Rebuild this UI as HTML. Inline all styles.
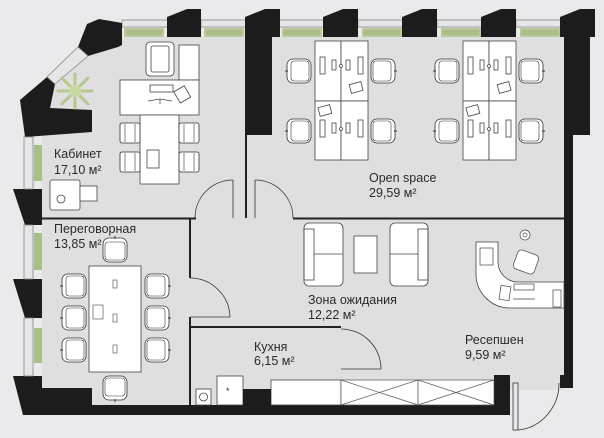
<!DOCTYPE html>
<html><head><meta charset="utf-8"><style>
html,body{margin:0;padding:0;background:#eaeaed;}
svg{display:block}
text{font-family:"Liberation Sans",sans-serif;font-size:12.5px;fill:#2a2a2a}
</style></head><body>
<svg width="604" height="438" viewBox="0 0 604 438" xmlns="http://www.w3.org/2000/svg">
<defs>
<g id="chairL"><rect x="0" y="0" width="24" height="24" rx="6" fill="#fff" stroke="#333" stroke-width="0.8"/><rect x="4" y="2" width="18" height="20" rx="3" fill="none" stroke="#333" stroke-width="0.6"/><line x1="-2" y1="12" x2="1" y2="12" stroke="#333"/></g>
<g id="chairR"><rect x="0" y="0" width="24" height="24" rx="6" fill="#fff" stroke="#333" stroke-width="0.8"/><rect x="2" y="2" width="18" height="20" rx="3" fill="none" stroke="#333" stroke-width="0.6"/><line x1="23" y1="12" x2="26" y2="12" stroke="#333"/></g>
<g id="chairS"><rect x="0" y="0" width="20" height="20" rx="2" fill="#fff" stroke="#333" stroke-width="0.8"/><line x1="5" y1="1" x2="5" y2="19" stroke="#333" stroke-width="0.6"/><line x1="15" y1="1" x2="15" y2="19" stroke="#333" stroke-width="0.6"/></g>
<g id="cluster" fill="#fff" stroke="#444" stroke-width="0.8">
<rect x="0" y="0" width="26" height="60"/><rect x="26" y="0" width="27" height="60"/><rect x="0" y="60" width="26" height="59"/><rect x="26" y="60" width="27" height="59"/>
<rect x="5" y="16" width="5" height="17"/><rect x="43" y="16" width="5" height="17"/><rect x="5" y="79" width="5" height="17"/><rect x="43" y="79" width="5" height="17"/>
<rect x="17" y="19" width="4" height="10"/><rect x="31" y="19" width="4" height="10"/><rect x="17" y="82" width="4" height="10"/><rect x="31" y="82" width="4" height="10"/>
<circle cx="26" cy="25" r="1.5"/><circle cx="26" cy="88" r="1.5"/>
<rect x="35" y="42" width="12" height="9" transform="rotate(-15 41 46)"/><rect x="4" y="65" width="12" height="9" transform="rotate(-15 10 70)"/>
</g>
<g id="plantH"><rect x="0" y="0" width="40" height="9" fill="#b9c99a"/><rect x="2" y="2" width="36" height="5" fill="#9fb87a" opacity="0.6"/></g>
</defs>

<!-- interior floor -->
<polygon points="55,84 88,56 122,45 122,37 564,37 564,390 510,390 510,405 42,405 42,137 50,108" fill="#dfdfdf"/>

<!-- top windows & plants -->
<g fill="#e6e6e8" stroke="#888" stroke-width="0.8">
<rect x="122" y="20" width="46" height="7"/><rect x="201" y="20" width="45" height="7"/>
<rect x="279" y="20" width="45" height="7"/><rect x="358" y="20" width="45" height="7"/>
<rect x="437" y="20" width="45" height="7"/><rect x="516" y="20" width="45" height="7"/>
</g>
<use href="#plantH" x="124" y="28"/><use href="#plantH" x="204" y="28"/><use href="#plantH" x="282" y="28"/>
<use href="#plantH" x="362" y="28"/><use href="#plantH" x="441" y="28"/><use href="#plantH" x="520" y="28"/>

<!-- walls -->
<g fill="#1c1c1c">
<polygon points="78,47 87,24 99,19 122,23 122,45 118,47 88,56"/>
<polygon points="47,77 55,84 50,108 92,110 92,132 25,137 20,100"/>
<polygon points="167,17 187,9 201,9 201,37 167,37"/>
<polygon points="245,17 265,9 280,9 280,37 272,37 272,135 245,135"/>
<polygon points="323,17 343,9 358,9 358,37 323,37"/>
<polygon points="402,17 422,9 437,9 437,37 402,37"/>
<polygon points="481,17 501,9 516,9 516,37 481,37"/>
<polygon points="560,17 580,9 595,9 595,37 590,37 590,135 573,135 573,388 560,388 560,375 564,375 564,37 560,37"/>
<polygon points="13,189 42,189 42,225 25,225"/>
<polygon points="13,279 42,279 42,318 25,318"/>
<polygon points="13,376 42,376 42,388 92,388 92,405 494,405 494,375 510,375 510,415 23,415"/>
</g>
<!-- diagonal window -->
<polygon points="78,47 88,56 55,84 47,77" fill="#e6e6e8" stroke="#888" stroke-width="0.8"/>
<!-- left windows -->
<g fill="#e6e6e8" stroke="#888" stroke-width="0.8">
<rect x="24" y="137" width="9" height="52"/><rect x="24" y="225" width="9" height="54"/><rect x="24" y="318" width="9" height="58"/>
</g>
<g fill="#a8bf86"><rect x="34" y="145" width="8" height="36"/><rect x="34" y="233" width="8" height="37"/><rect x="34" y="328" width="8" height="35"/></g>
<!-- plant -->
<g stroke="#b5c98f" stroke-width="3" stroke-linecap="round"><line x1="62" y1="78" x2="88" y2="104"/><line x1="88" y1="78" x2="62" y2="104"/><line x1="75" y1="74" x2="75" y2="108"/><line x1="58" y1="91" x2="92" y2="91"/></g>
<circle cx="75" cy="91" r="6" fill="#c8d9a3"/>

<!-- interior walls -->
<g stroke="#222" stroke-width="2" fill="none">
<line x1="246" y1="135" x2="246" y2="218"/>
<line x1="42" y1="218.5" x2="196" y2="218.5"/>
<line x1="293" y1="218.5" x2="564" y2="218.5"/>
<line x1="190" y1="218" x2="190" y2="278"/>
<line x1="190" y1="317" x2="190" y2="405"/>
<line x1="190" y1="327" x2="341" y2="327"/>
</g>
<!-- doors -->
<g stroke="#333" stroke-width="0.8" fill="none">
<line x1="233" y1="180" x2="233" y2="218"/><path d="M233,180 A38,38 0 0 0 195,218"/>
<line x1="255" y1="180" x2="255" y2="218"/><path d="M255,180 A38,38 0 0 1 293,218"/>
<line x1="190" y1="317" x2="230" y2="317"/><path d="M190,278 A40,40 0 0 1 230,317"/>
<line x1="341" y1="369" x2="381" y2="369"/><path d="M341,329 A40,40 0 0 1 381,369"/>
<rect x="513" y="383" width="5" height="47" fill="#e6e6e8"/><path d="M518,430 A45,47 0 0 0 559,383"/>
</g>

<!-- kitchen -->
<g stroke="#444" stroke-width="0.8" fill="#fff">
<rect x="271" y="380" width="70" height="25"/>
<rect x="217" y="376" width="26" height="29"/>
<rect x="196" y="389" width="15" height="16"/><circle cx="203.5" cy="397" r="4" fill="none"/>
</g>
<rect x="243" y="389" width="28" height="16" fill="#1c1c1c"/>
<text x="226" y="394" style="font-size:9px">*</text>
<!-- wardrobe -->
<g stroke="#555" stroke-width="0.7" fill="#fff">
<rect x="341" y="380" width="77" height="25"/><rect x="418" y="380" width="76" height="25"/>
<path d="M341,380 L418,405 M341,405 L418,380 M418,380 L494,405 M418,405 L494,380" fill="none"/>
</g>

<!-- cabinet furniture -->
<g stroke="#444" stroke-width="0.8" fill="#fff">
<rect x="179" y="45" width="20" height="35"/>
<rect x="146" y="42" width="28" height="34" rx="4"/><rect x="151" y="46" width="18" height="26" rx="2" fill="none"/>
<rect x="120" y="80" width="79" height="35"/>
<rect x="140" y="115" width="39" height="69"/>
<rect x="150" y="85" width="23" height="7" fill="none"/>
<rect x="176" y="88" width="12" height="13" transform="rotate(-30 182 94)" fill="none"/>
<path d="M148,101 L160,99 L172,101 M160,99 L160,104" fill="none"/>
<rect x="147" y="150" width="12" height="18" fill="none"/>
<rect x="50" y="180" width="30" height="30" rx="2"/><rect x="80" y="186" width="17" height="15"/><circle cx="61" cy="199" r="4" fill="none"/>
</g>
<use href="#chairS" x="120" y="123"/><use href="#chairS" x="120" y="152"/>
<use href="#chairS" x="179" y="123"/><use href="#chairS" x="179" y="152"/>

<!-- open space -->
<use href="#cluster" x="315" y="41"/><use href="#cluster" x="463" y="41"/>
<use href="#chairL" x="287" y="59"/><use href="#chairL" x="287" y="119"/>
<use href="#chairR" x="371" y="59"/><use href="#chairR" x="371" y="119"/>
<use href="#chairL" x="435" y="59"/><use href="#chairL" x="435" y="119"/>
<use href="#chairR" x="519" y="59"/><use href="#chairR" x="519" y="119"/>

<!-- meeting room -->
<rect x="89" y="266" width="52" height="106" fill="#fff" stroke="#444" stroke-width="0.8"/>
<g fill="#fff" stroke="#444" stroke-width="0.6"><rect x="113" y="280" width="4" height="8"/><rect x="113" y="314" width="4" height="8"/><rect x="113" y="345" width="4" height="8"/><rect x="93" y="305" width="10" height="14"/></g>
<use href="#chairL" x="62" y="274"/><use href="#chairL" x="62" y="306"/><use href="#chairL" x="62" y="338"/>
<use href="#chairR" x="145" y="274"/><use href="#chairR" x="145" y="306"/><use href="#chairR" x="145" y="338"/>
<use href="#chairL" x="103" y="238" transform="rotate(90 115 250)"/>
<use href="#chairL" x="103" y="376" transform="rotate(-90 115 388)"/>

<!-- waiting -->
<g stroke="#444" stroke-width="0.8" fill="#fff">
<rect x="304" y="223" width="39" height="63" rx="5"/><rect x="304" y="229" width="10" height="51" fill="none"/><line x1="314" y1="254" x2="343" y2="254"/>
<rect x="390" y="223" width="38" height="63" rx="5"/><rect x="418" y="229" width="10" height="51" fill="none"/><line x1="390" y1="254" x2="418" y2="254"/>
<rect x="354" y="236" width="23" height="37"/>
</g>

<!-- reception -->
<path d="M476,242 L498,242 L498,262 A20,20 0 0 0 518,282 L564,282 L564,308 L510,308 A34,34 0 0 1 476,274 Z" fill="#fff" stroke="#444" stroke-width="0.8"/>
<g stroke="#444" stroke-width="0.7" fill="#fff">
<rect x="480" y="248" width="13" height="17"/>
<rect x="515" y="252" width="22" height="20" rx="4" transform="rotate(20 526 262)"/>
<circle cx="525" cy="235" r="5"/><circle cx="525" cy="235" r="2"/>
<rect x="500" y="286" width="10" height="14" transform="rotate(8 505 293)"/>
<rect x="514" y="284" width="20" height="6"/>
<rect x="553" y="290" width="8" height="17"/>
<line x1="513" y1="299" x2="535" y2="299"/>
</g>

<!-- labels -->
<text x="54" y="158">Кабинет</text><text x="54" y="174">17,10 м²</text>
<text x="369" y="182">Open space</text><text x="369" y="197">29,59 м²</text>
<text x="54" y="233">Переговорная</text><text x="54" y="248">13,85 м²</text>
<text x="308" y="304">Зона ожидания</text><text x="308" y="319">12,22 м²</text>
<text x="254" y="351">Кухня</text><text x="254" y="365">6,15 м²</text>
<text x="465" y="344">Ресепшен</text><text x="465" y="359">9,59 м²</text>
</svg>
</body></html>
